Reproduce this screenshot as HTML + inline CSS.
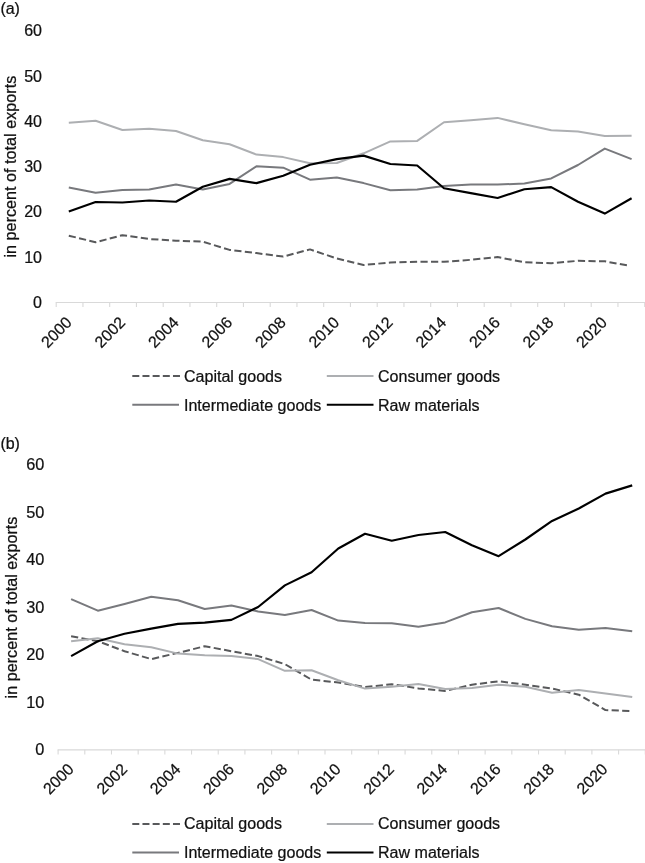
<!DOCTYPE html>
<html lang="en"><head><meta charset="utf-8"><title>Export composition charts</title>
<style>
html,body{margin:0;padding:0;background:#fff;}
svg{display:block;will-change:transform;}
svg text{font-family:"Liberation Sans", Arial, sans-serif;fill:#111;stroke:#111;stroke-width:0.24px;stroke-linejoin:round;}
</style></head>
<body>
<svg width="645" height="863" viewBox="0 0 645 863">
<rect width="645" height="863" fill="#ffffff"/>
<g id="chart-a">
<line x1="55.7" y1="302.45" x2="645" y2="302.45" stroke="#d9d9d9" stroke-width="1.05"/>
<line x1="56.20" y1="302.45" x2="56.20" y2="307.05" stroke="#d9d9d9" stroke-width="1.1"/>
<line x1="82.95" y1="302.45" x2="82.95" y2="307.05" stroke="#d9d9d9" stroke-width="1.1"/>
<line x1="109.70" y1="302.45" x2="109.70" y2="307.05" stroke="#d9d9d9" stroke-width="1.1"/>
<line x1="136.45" y1="302.45" x2="136.45" y2="307.05" stroke="#d9d9d9" stroke-width="1.1"/>
<line x1="163.20" y1="302.45" x2="163.20" y2="307.05" stroke="#d9d9d9" stroke-width="1.1"/>
<line x1="189.95" y1="302.45" x2="189.95" y2="307.05" stroke="#d9d9d9" stroke-width="1.1"/>
<line x1="216.70" y1="302.45" x2="216.70" y2="307.05" stroke="#d9d9d9" stroke-width="1.1"/>
<line x1="243.45" y1="302.45" x2="243.45" y2="307.05" stroke="#d9d9d9" stroke-width="1.1"/>
<line x1="270.20" y1="302.45" x2="270.20" y2="307.05" stroke="#d9d9d9" stroke-width="1.1"/>
<line x1="296.95" y1="302.45" x2="296.95" y2="307.05" stroke="#d9d9d9" stroke-width="1.1"/>
<line x1="323.70" y1="302.45" x2="323.70" y2="307.05" stroke="#d9d9d9" stroke-width="1.1"/>
<line x1="350.45" y1="302.45" x2="350.45" y2="307.05" stroke="#d9d9d9" stroke-width="1.1"/>
<line x1="377.20" y1="302.45" x2="377.20" y2="307.05" stroke="#d9d9d9" stroke-width="1.1"/>
<line x1="403.95" y1="302.45" x2="403.95" y2="307.05" stroke="#d9d9d9" stroke-width="1.1"/>
<line x1="430.70" y1="302.45" x2="430.70" y2="307.05" stroke="#d9d9d9" stroke-width="1.1"/>
<line x1="457.45" y1="302.45" x2="457.45" y2="307.05" stroke="#d9d9d9" stroke-width="1.1"/>
<line x1="484.20" y1="302.45" x2="484.20" y2="307.05" stroke="#d9d9d9" stroke-width="1.1"/>
<line x1="510.95" y1="302.45" x2="510.95" y2="307.05" stroke="#d9d9d9" stroke-width="1.1"/>
<line x1="537.70" y1="302.45" x2="537.70" y2="307.05" stroke="#d9d9d9" stroke-width="1.1"/>
<line x1="564.45" y1="302.45" x2="564.45" y2="307.05" stroke="#d9d9d9" stroke-width="1.1"/>
<line x1="591.20" y1="302.45" x2="591.20" y2="307.05" stroke="#d9d9d9" stroke-width="1.1"/>
<line x1="617.95" y1="302.45" x2="617.95" y2="307.05" stroke="#d9d9d9" stroke-width="1.1"/>
<line x1="644.70" y1="302.45" x2="644.70" y2="307.05" stroke="#d9d9d9" stroke-width="1.1"/>
<text x="42.0" y="308.0" font-size="16" text-anchor="end">0</text>
<text x="42.0" y="262.6" font-size="16" text-anchor="end">10</text>
<text x="42.0" y="217.0" font-size="16" text-anchor="end">20</text>
<text x="42.0" y="172.0" font-size="16" text-anchor="end">30</text>
<text x="42.0" y="127.0" font-size="16" text-anchor="end">40</text>
<text x="42.0" y="82.0" font-size="16" text-anchor="end">50</text>
<text x="42.0" y="36.0" font-size="16" text-anchor="end">60</text>
<text transform="translate(72.8,323.5) rotate(-45)" font-size="16" text-anchor="end">2000</text>
<text transform="translate(126.3,323.5) rotate(-45)" font-size="16" text-anchor="end">2002</text>
<text transform="translate(179.8,323.5) rotate(-45)" font-size="16" text-anchor="end">2004</text>
<text transform="translate(233.4,323.5) rotate(-45)" font-size="16" text-anchor="end">2006</text>
<text transform="translate(286.9,323.5) rotate(-45)" font-size="16" text-anchor="end">2008</text>
<text transform="translate(340.4,323.5) rotate(-45)" font-size="16" text-anchor="end">2010</text>
<text transform="translate(393.9,323.5) rotate(-45)" font-size="16" text-anchor="end">2012</text>
<text transform="translate(447.4,323.5) rotate(-45)" font-size="16" text-anchor="end">2014</text>
<text transform="translate(501.0,323.5) rotate(-45)" font-size="16" text-anchor="end">2016</text>
<text transform="translate(554.5,323.5) rotate(-45)" font-size="16" text-anchor="end">2018</text>
<text transform="translate(608.0,323.5) rotate(-45)" font-size="16" text-anchor="end">2020</text>
<text transform="translate(15.6,166.6) rotate(-90)" font-size="16.2" text-anchor="middle">in percent of total exports</text>
<text x="0.4" y="13.8" font-size="16">(a)</text>
<polyline points="68.80,235.70 95.60,242.20 122.40,235.20 149.20,239.00 176.00,240.70 202.80,241.70 229.60,249.90 256.40,253.10 283.20,256.60 310.00,249.40 336.80,258.50 363.60,265.00 390.40,262.50 417.20,261.80 444.00,261.80 470.80,259.80 497.60,257.10 524.40,262.30 551.20,263.30 578.00,260.80 604.80,261.30 630.16,265.94" fill="none" stroke="#58595b" stroke-width="2.0" stroke-dasharray="7.2 3.35" stroke-linejoin="round"/>
<polyline points="68.80,122.80 95.60,120.80 122.40,130.00 149.20,128.80 176.00,131.00 202.80,140.20 229.60,144.20 256.40,154.60 283.20,157.10 310.00,163.30 336.80,163.00 363.60,153.30 390.40,141.40 417.20,140.90 444.00,122.30 470.80,120.30 497.60,117.90 524.40,124.30 551.20,130.30 578.00,131.50 604.80,136.00 631.60,135.70" fill="none" stroke="#adafb2" stroke-width="2.0" stroke-linejoin="round"/>
<polyline points="68.80,187.60 95.60,192.80 122.40,190.10 149.20,189.60 176.00,184.40 202.80,189.50 229.60,183.90 256.40,166.30 283.20,167.70 310.00,179.70 336.80,177.40 363.60,183.10 390.40,190.30 417.20,189.60 444.00,185.90 470.80,184.60 497.60,184.60 524.40,183.40 551.20,178.40 578.00,165.00 604.80,148.60 631.60,159.10" fill="none" stroke="#78797d" stroke-width="2.0" stroke-linejoin="round"/>
<polyline points="68.80,211.40 95.60,202.00 122.40,202.50 149.20,200.50 176.00,201.70 202.80,186.80 229.60,178.90 256.40,183.10 283.20,175.70 310.00,164.80 336.80,159.10 363.60,155.60 390.40,164.00 417.20,165.50 444.00,188.30 470.80,193.10 497.60,198.00 524.40,189.30 551.20,187.10 578.00,201.70 604.80,213.60 631.60,198.30" fill="none" stroke="#000000" stroke-width="2.15" stroke-linejoin="round"/>
<line x1="132.3" y1="376.0" x2="180" y2="376.0" stroke="#58595b" stroke-width="1.95" stroke-dasharray="7 3.17"/>
<text x="184" y="382.2" font-size="16.05">Capital goods</text>
<line x1="326.8" y1="376.0" x2="373.5" y2="376.0" stroke="#adafb2" stroke-width="1.95"/>
<text x="378" y="382.2" font-size="16.05">Consumer goods</text>
<line x1="132.3" y1="404.7" x2="179" y2="404.7" stroke="#78797d" stroke-width="1.95"/>
<text x="184" y="410.7" font-size="16.05">Intermediate goods</text>
<line x1="326.8" y1="404.7" x2="373.5" y2="404.7" stroke="#000000" stroke-width="2.1"/>
<text x="378" y="410.7" font-size="16.05">Raw materials</text>
</g>
<g id="chart-b">
<line x1="57.6" y1="749.85" x2="645" y2="749.85" stroke="#d9d9d9" stroke-width="1.05"/>
<line x1="58.10" y1="749.85" x2="58.10" y2="754.45" stroke="#d9d9d9" stroke-width="1.1"/>
<line x1="84.79" y1="749.85" x2="84.79" y2="754.45" stroke="#d9d9d9" stroke-width="1.1"/>
<line x1="111.48" y1="749.85" x2="111.48" y2="754.45" stroke="#d9d9d9" stroke-width="1.1"/>
<line x1="138.17" y1="749.85" x2="138.17" y2="754.45" stroke="#d9d9d9" stroke-width="1.1"/>
<line x1="164.86" y1="749.85" x2="164.86" y2="754.45" stroke="#d9d9d9" stroke-width="1.1"/>
<line x1="191.55" y1="749.85" x2="191.55" y2="754.45" stroke="#d9d9d9" stroke-width="1.1"/>
<line x1="218.24" y1="749.85" x2="218.24" y2="754.45" stroke="#d9d9d9" stroke-width="1.1"/>
<line x1="244.93" y1="749.85" x2="244.93" y2="754.45" stroke="#d9d9d9" stroke-width="1.1"/>
<line x1="271.62" y1="749.85" x2="271.62" y2="754.45" stroke="#d9d9d9" stroke-width="1.1"/>
<line x1="298.31" y1="749.85" x2="298.31" y2="754.45" stroke="#d9d9d9" stroke-width="1.1"/>
<line x1="325.00" y1="749.85" x2="325.00" y2="754.45" stroke="#d9d9d9" stroke-width="1.1"/>
<line x1="351.69" y1="749.85" x2="351.69" y2="754.45" stroke="#d9d9d9" stroke-width="1.1"/>
<line x1="378.38" y1="749.85" x2="378.38" y2="754.45" stroke="#d9d9d9" stroke-width="1.1"/>
<line x1="405.07" y1="749.85" x2="405.07" y2="754.45" stroke="#d9d9d9" stroke-width="1.1"/>
<line x1="431.76" y1="749.85" x2="431.76" y2="754.45" stroke="#d9d9d9" stroke-width="1.1"/>
<line x1="458.45" y1="749.85" x2="458.45" y2="754.45" stroke="#d9d9d9" stroke-width="1.1"/>
<line x1="485.14" y1="749.85" x2="485.14" y2="754.45" stroke="#d9d9d9" stroke-width="1.1"/>
<line x1="511.83" y1="749.85" x2="511.83" y2="754.45" stroke="#d9d9d9" stroke-width="1.1"/>
<line x1="538.52" y1="749.85" x2="538.52" y2="754.45" stroke="#d9d9d9" stroke-width="1.1"/>
<line x1="565.21" y1="749.85" x2="565.21" y2="754.45" stroke="#d9d9d9" stroke-width="1.1"/>
<line x1="591.90" y1="749.85" x2="591.90" y2="754.45" stroke="#d9d9d9" stroke-width="1.1"/>
<line x1="618.59" y1="749.85" x2="618.59" y2="754.45" stroke="#d9d9d9" stroke-width="1.1"/>
<line x1="645.28" y1="749.85" x2="645.28" y2="754.45" stroke="#d9d9d9" stroke-width="1.1"/>
<text x="44.3" y="755.4" font-size="16.3" text-anchor="end">0</text>
<text x="44.3" y="707.9" font-size="16.3" text-anchor="end">10</text>
<text x="44.3" y="660.4" font-size="16.3" text-anchor="end">20</text>
<text x="44.3" y="612.9" font-size="16.3" text-anchor="end">30</text>
<text x="44.3" y="565.4" font-size="16.3" text-anchor="end">40</text>
<text x="44.3" y="517.9" font-size="16.3" text-anchor="end">50</text>
<text x="44.3" y="470.4" font-size="16.3" text-anchor="end">60</text>
<text transform="translate(74.9,770.2) rotate(-45)" font-size="16" text-anchor="end">2000</text>
<text transform="translate(128.3,770.2) rotate(-45)" font-size="16" text-anchor="end">2002</text>
<text transform="translate(181.6,770.2) rotate(-45)" font-size="16" text-anchor="end">2004</text>
<text transform="translate(235.0,770.2) rotate(-45)" font-size="16" text-anchor="end">2006</text>
<text transform="translate(288.3,770.2) rotate(-45)" font-size="16" text-anchor="end">2008</text>
<text transform="translate(341.7,770.2) rotate(-45)" font-size="16" text-anchor="end">2010</text>
<text transform="translate(395.1,770.2) rotate(-45)" font-size="16" text-anchor="end">2012</text>
<text transform="translate(448.4,770.2) rotate(-45)" font-size="16" text-anchor="end">2014</text>
<text transform="translate(501.8,770.2) rotate(-45)" font-size="16" text-anchor="end">2016</text>
<text transform="translate(555.1,770.2) rotate(-45)" font-size="16" text-anchor="end">2018</text>
<text transform="translate(608.5,770.2) rotate(-45)" font-size="16" text-anchor="end">2020</text>
<text transform="translate(17.3,607.5) rotate(-90)" font-size="16.2" text-anchor="middle">in percent of total exports</text>
<text x="0.4" y="449.2" font-size="16">(b)</text>
<polyline points="71.10,636.30 97.82,641.20 124.54,651.20 151.26,659.10 177.98,652.90 204.70,646.20 231.42,651.20 258.14,656.10 284.86,664.10 311.58,679.70 338.30,682.40 365.02,687.10 391.74,684.20 418.46,688.40 445.18,690.90 471.90,684.70 498.62,681.30 525.34,684.70 552.06,688.50 578.78,694.70 605.50,710.10 632.22,711.00" fill="none" stroke="#58595b" stroke-width="2.0" stroke-dasharray="7.2 3.35" stroke-linejoin="round"/>
<polyline points="71.10,641.20 97.82,638.30 124.54,644.20 151.26,647.20 177.98,653.60 204.70,655.20 231.42,656.10 258.14,659.10 284.86,670.80 311.58,670.30 338.30,680.30 365.02,688.60 391.74,686.70 418.46,683.90 445.18,689.10 471.90,687.90 498.62,684.70 525.34,686.70 552.06,692.70 578.78,690.00 605.50,693.40 632.22,696.90" fill="none" stroke="#adafb2" stroke-width="2.0" stroke-linejoin="round"/>
<polyline points="71.10,599.10 97.82,610.70 124.54,604.00 151.26,596.80 177.98,600.30 204.70,609.00 231.42,605.60 258.14,611.50 284.86,614.90 311.58,610.00 338.30,620.60 365.02,623.10 391.74,623.30 418.46,626.80 445.18,622.40 471.90,612.20 498.62,608.00 525.34,618.90 552.06,626.30 578.78,629.80 605.50,628.10 632.22,631.30" fill="none" stroke="#78797d" stroke-width="2.0" stroke-linejoin="round"/>
<polyline points="71.10,656.10 97.82,641.20 124.54,633.80 151.26,628.60 177.98,623.90 204.70,622.60 231.42,619.90 258.14,607.00 284.86,585.40 311.58,572.30 338.30,548.50 365.02,533.80 391.74,540.70 418.46,535.00 445.18,532.00 471.90,545.20 498.62,556.20 525.34,539.50 552.06,520.90 578.78,508.50 605.50,493.60 632.22,485.40" fill="none" stroke="#000000" stroke-width="2.15" stroke-linejoin="round"/>
<line x1="132.3" y1="823.9" x2="180" y2="823.9" stroke="#58595b" stroke-width="1.95" stroke-dasharray="7 3.17"/>
<text x="184" y="829.3" font-size="16.05">Capital goods</text>
<line x1="326.8" y1="823.9" x2="373.5" y2="823.9" stroke="#adafb2" stroke-width="1.95"/>
<text x="378" y="829.3" font-size="16.05">Consumer goods</text>
<line x1="132.3" y1="852.5" x2="179" y2="852.5" stroke="#78797d" stroke-width="1.95"/>
<text x="184" y="857.6" font-size="16.05">Intermediate goods</text>
<line x1="326.8" y1="852.5" x2="373.5" y2="852.5" stroke="#000000" stroke-width="2.1"/>
<text x="378" y="857.6" font-size="16.05">Raw materials</text>
</g>
</svg>
</body></html>
